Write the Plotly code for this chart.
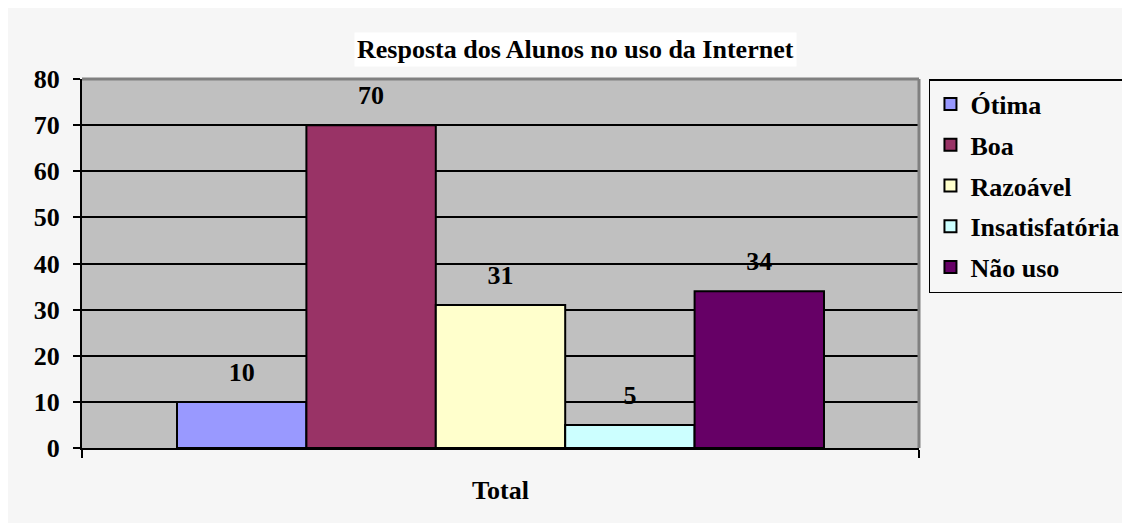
import plotly.graph_objects as go

# Data
categories = ["Total"]
series_names = ["Ótima", "Boa", "Razoável", "Insatisfatória", "Não uso"]
series_values = [10, 70, 31, 5, 34]
series_colors = ["#9999ff", "#993366", "#ffffcc", "#ccffff", "#660066"]
y_ticks = [0, 10, 20, 30, 40, 50, 60, 70, 80]

FONT = "Liberation Serif"

fig = go.Figure()

for name, value, color in zip(series_names, series_values, series_colors):
    fig.add_trace(go.Bar(
        x=categories,
        y=[value],
        name=name,
        offsetgroup=name,
        legendgroup=name,
        marker=dict(color=color, line=dict(color="black", width=2)),
    ))

# value labels, grouped like the bars so they sit above each one
for name, value in zip(series_names, series_values):
    fig.add_trace(go.Scatter(
        x=categories,
        y=[value],
        offsetgroup=name,
        mode="markers+text",
        marker=dict(size=22, opacity=0),
        text=["<b>%d</b>" % value],
        textposition="top center",
        textfont=dict(family=FONT, size=26, color="black"),
        showlegend=False,
        hoverinfo="skip",
        cliponaxis=False,
    ))

fig.update_layout(
    width=1130,
    height=523,
    barmode="group",
    bargap=0.227,
    bargroupgap=0,
    scattermode="group",
    scattergap=0.227,
    paper_bgcolor="#f6f6f6",
    plot_bgcolor="#c0c0c0",
    margin=dict(l=74, r=219, t=71, b=83, autoexpand=False),
    font=dict(family=FONT, size=25, color="black"),
    showlegend=True,
    legend=dict(
        x=1.0119, y=1.0, xanchor="left", yanchor="top",
        bgcolor="#f6f6f6", bordercolor="black", borderwidth=1.5,
        font=dict(family=FONT, size=26, color="black", weight="bold"),
        traceorder="grouped", tracegroupgap=4, itemwidth=30,
    ),
    xaxis=dict(
        showline=True, linecolor="black", linewidth=2,
        ticks="outside", tickson="boundaries", ticklen=8,
        tickcolor="black", tickwidth=2,
        ticklabelstandoff=18,
        tickfont=dict(family=FONT, size=26, color="black", weight="bold"),
        showgrid=False,
    ),
    yaxis=dict(
        range=[0, 80], tickvals=y_ticks,
        showline=True, linecolor="black", linewidth=2,
        ticks="outside", ticklen=7, tickcolor="black", tickwidth=2,
        ticklabelstandoff=8,
        tickfont=dict(family=FONT, size=26, color="black", weight="bold"),
        showgrid=True, gridcolor="black", gridwidth=2,
        zeroline=False,
    ),
    shapes=[
        # gray plot-area border at top and right
        dict(type="line", xref="paper", yref="paper",
             x0=0, x1=1, y0=1, y1=1,
             line=dict(color="#808080", width=3)),
        dict(type="line", xref="paper", yref="paper",
             x0=1, x1=1, y0=0, y1=1,
             line=dict(color="#808080", width=3)),
    ],
    annotations=[
        dict(text="<b>Resposta dos Alunos no uso da Internet</b>",
             xref="paper", yref="paper", x=0.590, y=1.081,
             xanchor="center", yanchor="middle", showarrow=False,
             bgcolor="white", borderpad=2,
             font=dict(family=FONT, size=26, color="black")),
    ],
)

fig.write_html("out.html")
